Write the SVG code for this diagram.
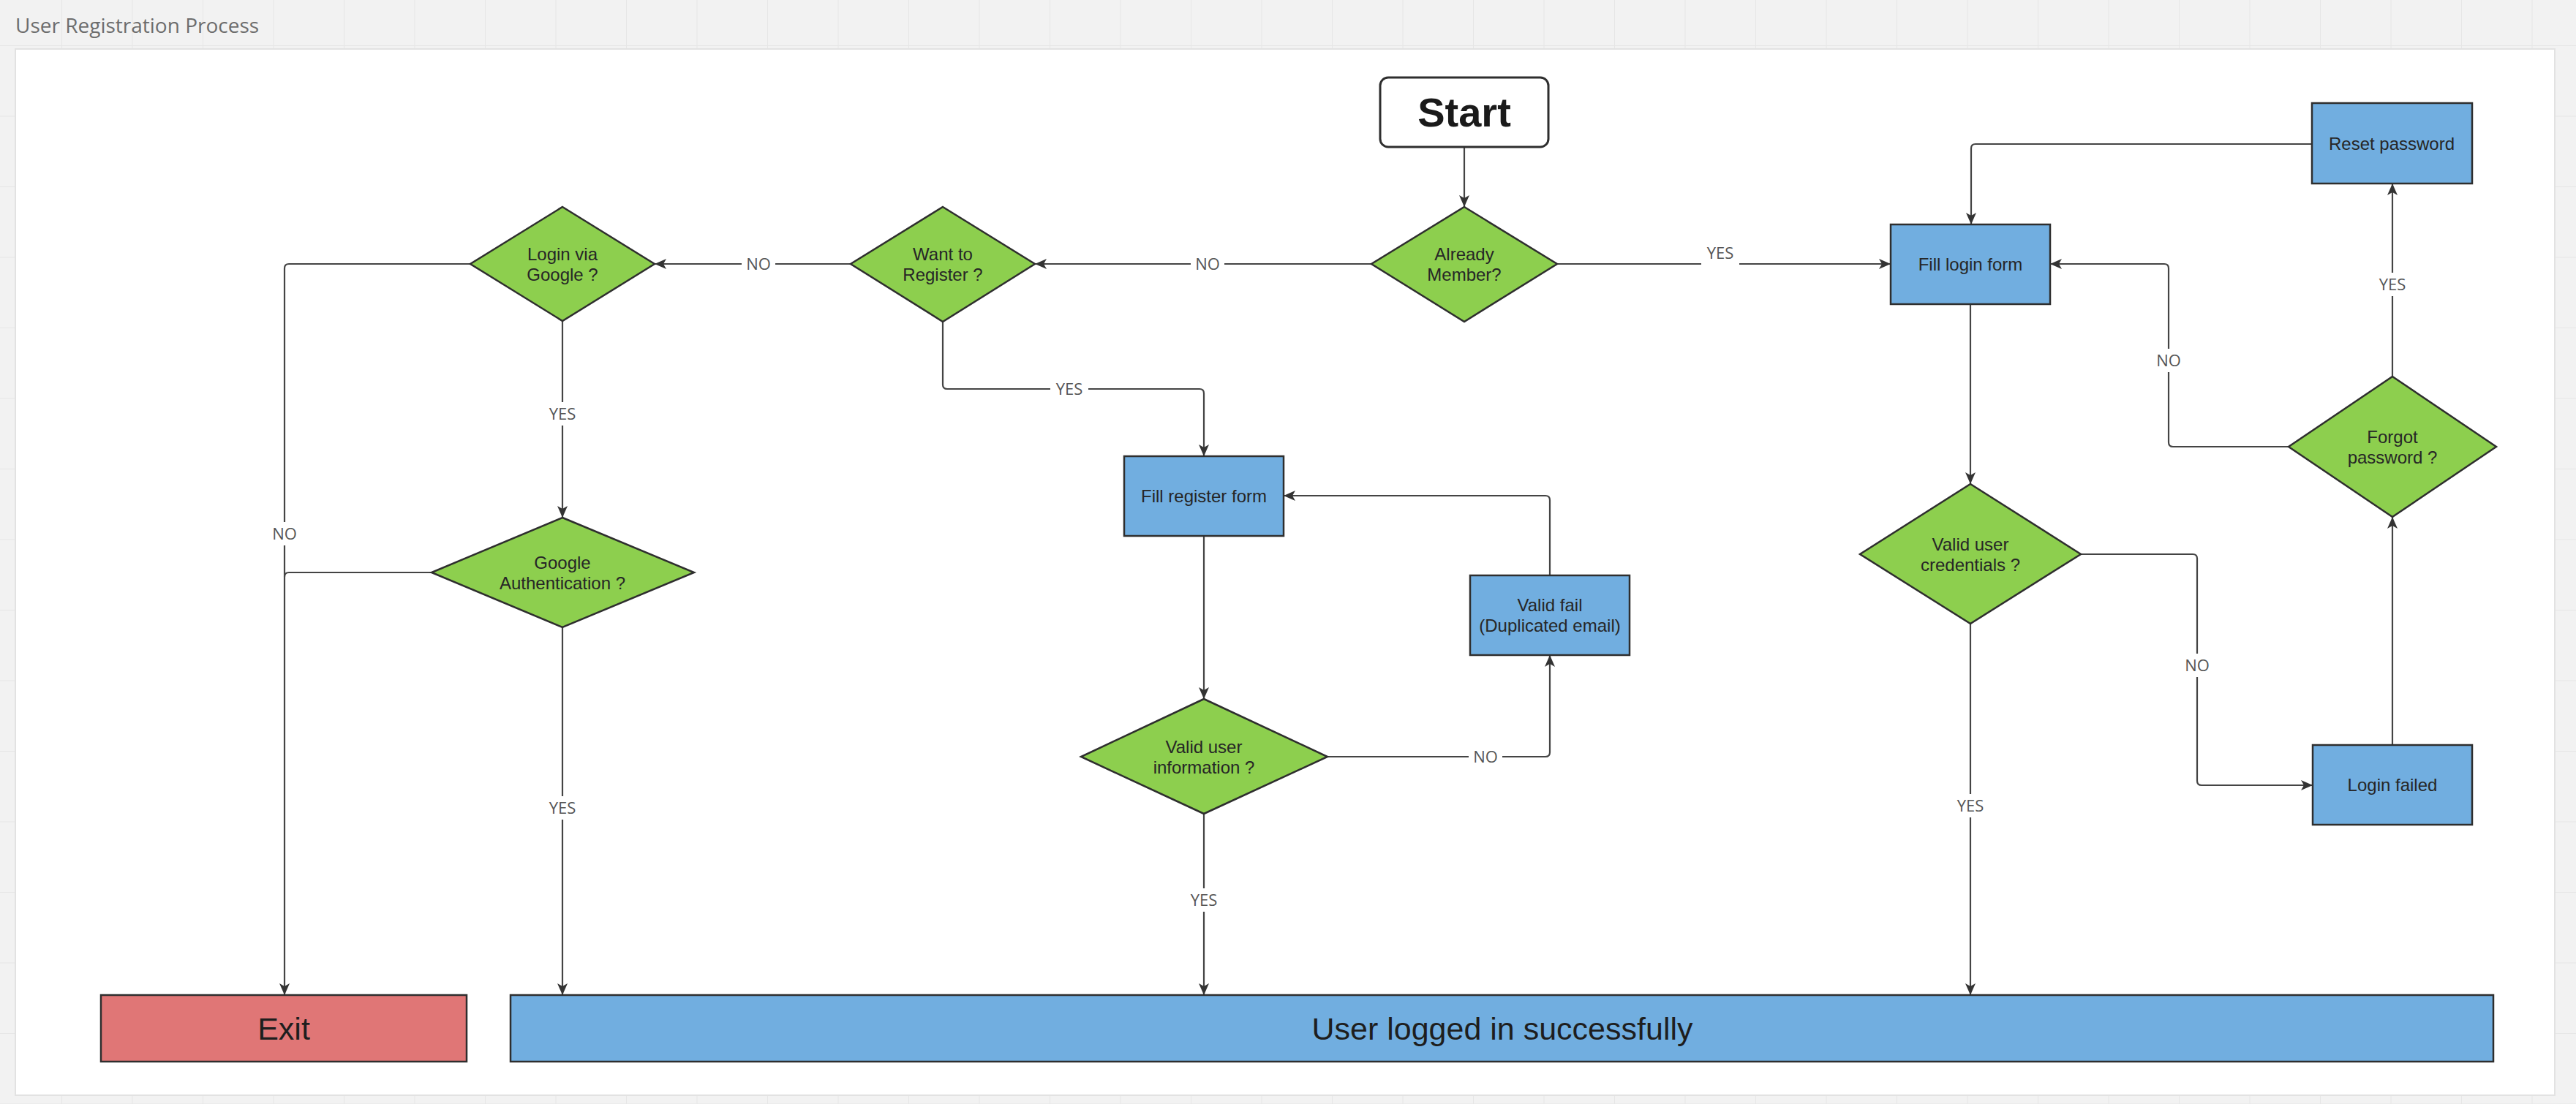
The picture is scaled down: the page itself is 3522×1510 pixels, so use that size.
<svg xmlns="http://www.w3.org/2000/svg" width="3522" height="1510" viewBox="0 0 3522 1510">
<defs>
<pattern id="grid" x="84" y="62" width="96.5" height="96.5" patternUnits="userSpaceOnUse">
<rect width="96.5" height="96.5" fill="#f2f2f2"/>
<path d="M0,0 L96.5,0 M0,0 L0,96.5" stroke="#e6e6e6" stroke-width="2" fill="none"/>
</pattern>
<marker id="arr" viewBox="0 0 16 14" refX="16" refY="7" markerWidth="16" markerHeight="14" orient="auto" markerUnits="userSpaceOnUse">
<path d="M0,0 L16,7 L0,14 L4,7 z" fill="#333"/>
</marker>
<style>
.dia{fill:#8dcf4e;stroke:#2e2e2e;stroke-width:2.5}
.box{fill:#71aee0;stroke:#2e2e2e;stroke-width:2.5}
.red{fill:#e07676;stroke:#2e2e2e;stroke-width:2.5}
.t{font-family:"Liberation Sans",Arial,sans-serif;font-size:24px;fill:#262626;text-anchor:middle}
.big{font-family:"Liberation Sans",Arial,sans-serif;font-size:43px;fill:#1e1e1e;text-anchor:middle}
.c{fill:none;stroke:#444;stroke-width:2.2}
.a{marker-end:url(#arr)}
.lb{fill:#ffffff}
.lt{font-family:"Open Sans","Liberation Sans",sans-serif;font-size:22px;fill:#555;text-anchor:middle}
</style>
</defs>
<rect x="0" y="0" width="3522" height="1510" fill="url(#grid)"/>
<text x="21" y="45" font-family="'Open Sans','Liberation Sans',sans-serif" font-size="28" fill="#6d6d6d">User Registration Process</text>
<rect x="21" y="67" width="3472" height="1431" fill="#ffffff" stroke="#e2e2e2" stroke-width="2"/>

<g id="connectors">
<path class="c a" d="M2002,201 L2002,283"/>
<path class="c a" d="M1875,361 L1415,361"/>
<path class="c a" d="M2129,361 L2585,361"/>
<path class="c a" d="M1163,361 L895,361"/>
<path class="c a" d="M1289,440 L1289,526 Q1289,532 1295,532 L1640,532 Q1646,532 1646,538 L1646,624"/>
<path class="c a" d="M769,439 L769,708"/>
<path class="c a" d="M643,361 L395,361 Q389,361 389,367 L389,1361"/>
<path class="c" d="M590,783 L395,783 Q389,783 389,789"/>
<path class="c a" d="M769,858 L769,1361"/>
<path class="c a" d="M1646,733 L1646,956"/>
<path class="c a" d="M1815,1035 L2113,1035 Q2119,1035 2119,1029 L2119,896"/>
<path class="c a" d="M2119,787 L2119,684 Q2119,678 2113,678 L1755,678"/>
<path class="c a" d="M1646,1113 L1646,1361"/>
<path class="c a" d="M2694,416 L2694,662"/>
<path class="c a" d="M2845,758 L2998,758 Q3004,758 3004,764 L3004,1068 Q3004,1074 3010,1074 L3162,1074"/>
<path class="c a" d="M2694,853 L2694,1361"/>
<path class="c a" d="M3271,1019 L3271,707"/>
<path class="c a" d="M3129,611 L2971,611 Q2965,611 2965,605 L2965,367 Q2965,361 2959,361 L2803,361"/>
<path class="c a" d="M3271,515 L3271,251"/>
<path class="c a" d="M3161,197 L2701,197 Q2695,197 2695,203 L2695,307"/>

<rect class="lb" x="1628" y="345" width="46" height="32"/><text class="lt" x="1651" y="369">NO</text>
<rect class="lb" x="2326" y="334" width="52" height="32"/><text class="lt" x="2352" y="354">YES</text>
<rect class="lb" x="1014" y="345" width="46" height="32"/><text class="lt" x="1037" y="369">NO</text>
<rect class="lb" x="1436" y="516" width="52" height="32"/><text class="lt" x="1462" y="540">YES</text>
<rect class="lb" x="743" y="550" width="52" height="32"/><text class="lt" x="769" y="574">YES</text>
<rect class="lb" x="366" y="714" width="46" height="32"/><text class="lt" x="389" y="738">NO</text>
<rect class="lb" x="743" y="1089" width="52" height="32"/><text class="lt" x="769" y="1113">YES</text>
<rect class="lb" x="2008" y="1019" width="46" height="32"/><text class="lt" x="2031" y="1043">NO</text>
<rect class="lb" x="1620" y="1215" width="52" height="32"/><text class="lt" x="1646" y="1239">YES</text>
<rect class="lb" x="2981" y="894" width="46" height="32"/><text class="lt" x="3004" y="918">NO</text>
<rect class="lb" x="2668" y="1086" width="52" height="32"/><text class="lt" x="2694" y="1110">YES</text>
<rect class="lb" x="2942" y="477" width="46" height="32"/><text class="lt" x="2965" y="501">NO</text>
<rect class="lb" x="3245" y="373" width="52" height="32"/><text class="lt" x="3271" y="397">YES</text>
</g>

<g id="start">
<rect x="1887" y="106" width="230" height="95" rx="11" fill="#ffffff" stroke="#2e2e2e" stroke-width="3"/>
<text x="2002" y="173" font-family="'Liberation Sans',Arial,sans-serif" font-size="56" font-weight="bold" fill="#1a1a1a" text-anchor="middle">Start</text>
</g>
<g id="already-member">
<polygon class="dia" points="2002,283 2129,361 2002,440 1875,361"/>
<text class="t" x="2002" y="356">Already</text><text class="t" x="2002" y="384">Member?</text>
</g>
<g id="want-register">
<polygon class="dia" points="1289,283 1415,361 1289,440 1163,361"/>
<text class="t" x="1289" y="356">Want to</text><text class="t" x="1289" y="384">Register ?</text>
</g>
<g id="login-google">
<polygon class="dia" points="769,283 895,361 769,439 643,361"/>
<text class="t" x="769" y="356">Login via</text><text class="t" x="769" y="384">Google ?</text>
</g>
<g id="google-auth">
<polygon class="dia" points="769,708 949,783 769,858 590,783"/>
<text class="t" x="769" y="778">Google</text><text class="t" x="769" y="806">Authentication ?</text>
</g>
<g id="fill-register">
<rect class="box" x="1537" y="624" width="218" height="109"/>
<text class="t" x="1646" y="687">Fill register form</text>
</g>
<g id="valid-fail">
<rect class="box" x="2010" y="787" width="218" height="109"/>
<text class="t" x="2119" y="836">Valid fail</text><text class="t" x="2119" y="864">(Duplicated email)</text>
</g>
<g id="valid-info">
<polygon class="dia" points="1646,956 1815,1035 1646,1113 1478,1035"/>
<text class="t" x="1646" y="1030">Valid user</text><text class="t" x="1646" y="1058">information ?</text>
</g>
<g id="fill-login">
<rect class="box" x="2585" y="307" width="218" height="109"/>
<text class="t" x="2694" y="370">Fill login form</text>
</g>
<g id="valid-credentials">
<polygon class="dia" points="2694,662 2845,758 2694,853 2543,758"/>
<text class="t" x="2694" y="753">Valid user</text><text class="t" x="2694" y="781">credentials ?</text>
</g>
<g id="login-failed">
<rect class="box" x="3162" y="1019" width="218" height="109"/>
<text class="t" x="3271" y="1082">Login failed</text>
</g>
<g id="forgot-password">
<polygon class="dia" points="3271,515 3413,611 3271,707 3129,611"/>
<text class="t" x="3271" y="606">Forgot</text><text class="t" x="3271" y="634">password ?</text>
</g>
<g id="reset-password">
<rect class="box" x="3161" y="141" width="219" height="110"/>
<text class="t" x="3270" y="205">Reset password</text>
</g>
<g id="exit">
<rect class="red" x="138" y="1361" width="500" height="91"/>
<text class="big" x="388" y="1422">Exit</text>
</g>
<g id="success">
<rect class="box" x="698" y="1361" width="2711" height="91"/>
<text class="big" x="2054" y="1422">User logged in successfully</text>
</g>
</svg>
